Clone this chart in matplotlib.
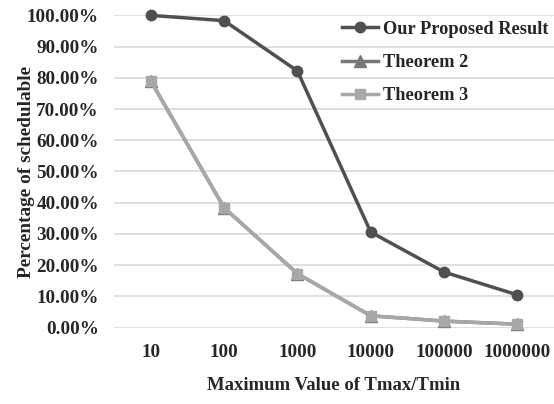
import matplotlib.pyplot as plt
from matplotlib.ticker import FuncFormatter

# Data
categories = ["10", "100", "1000", "10000", "100000", "1000000"]
proposed = [1.000, 0.983, 0.822, 0.306, 0.178, 0.105]
theorem2 = [0.790, 0.384, 0.173, 0.038, 0.021, 0.011]
theorem3 = [0.790, 0.384, 0.173, 0.038, 0.021, 0.011]

plt.rcParams['font.family'] = ['Liberation Serif', 'DejaVu Serif']
plt.rcParams['font.weight'] = 'bold'

fig = plt.figure(figsize=(5.54, 4.04), dpi=100)
ax = fig.add_axes([0.206, 0.189, 0.794, 0.773])

x = range(len(categories))
ax.plot(x, proposed, color='#505050', lw=2.5, marker='o', ms=7.5,
        label='Our Proposed Result', clip_on=False, zorder=5)
ax.plot(x, theorem2, color='#787878', lw=2.5, marker='^', ms=8.5,
        label='Theorem 2', clip_on=False, zorder=3)
ax.plot(x, theorem3, color='#a8a8a8', lw=2.5, marker='s', ms=7,
        label='Theorem 3', clip_on=False, zorder=4)

ax.set_xlim(-0.5, len(categories) - 0.5)
ax.set_ylim(0, 1.0)
ax.set_yticks([i / 10 for i in range(11)])
ax.yaxis.set_major_formatter(FuncFormatter(lambda v, p: f"{v * 100:.2f}%"))
ax.set_xticks(list(x))
ax.set_xticklabels(categories)

ax.grid(axis='y', color='#d9d9d9', lw=1.2)
ax.set_axisbelow(True)
for s in ax.spines.values():
    s.set_visible(False)
ax.tick_params(length=0, labelsize=13.8, colors='#262626')
ax.tick_params(axis='y', pad=11)
ax.tick_params(axis='x', pad=12)
for lab in ax.get_xticklabels() + ax.get_yticklabels():
    lab.set_fontweight('bold')

ax.set_xlabel('Maximum Value of Tmax/Tmin', fontsize=13.5, fontweight='bold',
              color='#262626', labelpad=11)
ax.set_ylabel('Percentage of schedulable', fontsize=13.9, fontweight='bold',
              color='#262626', labelpad=-6)

leg = ax.legend(loc='upper right', bbox_to_anchor=(1.025, 1.036), frameon=False,
                prop={'size': 13.2, 'weight': 'bold'}, handlelength=2.0,
                handletextpad=0.25, labelspacing=0.89)
for t in leg.get_texts():
    t.set_color('#262626')

plt.savefig('out.png', dpi=100)
